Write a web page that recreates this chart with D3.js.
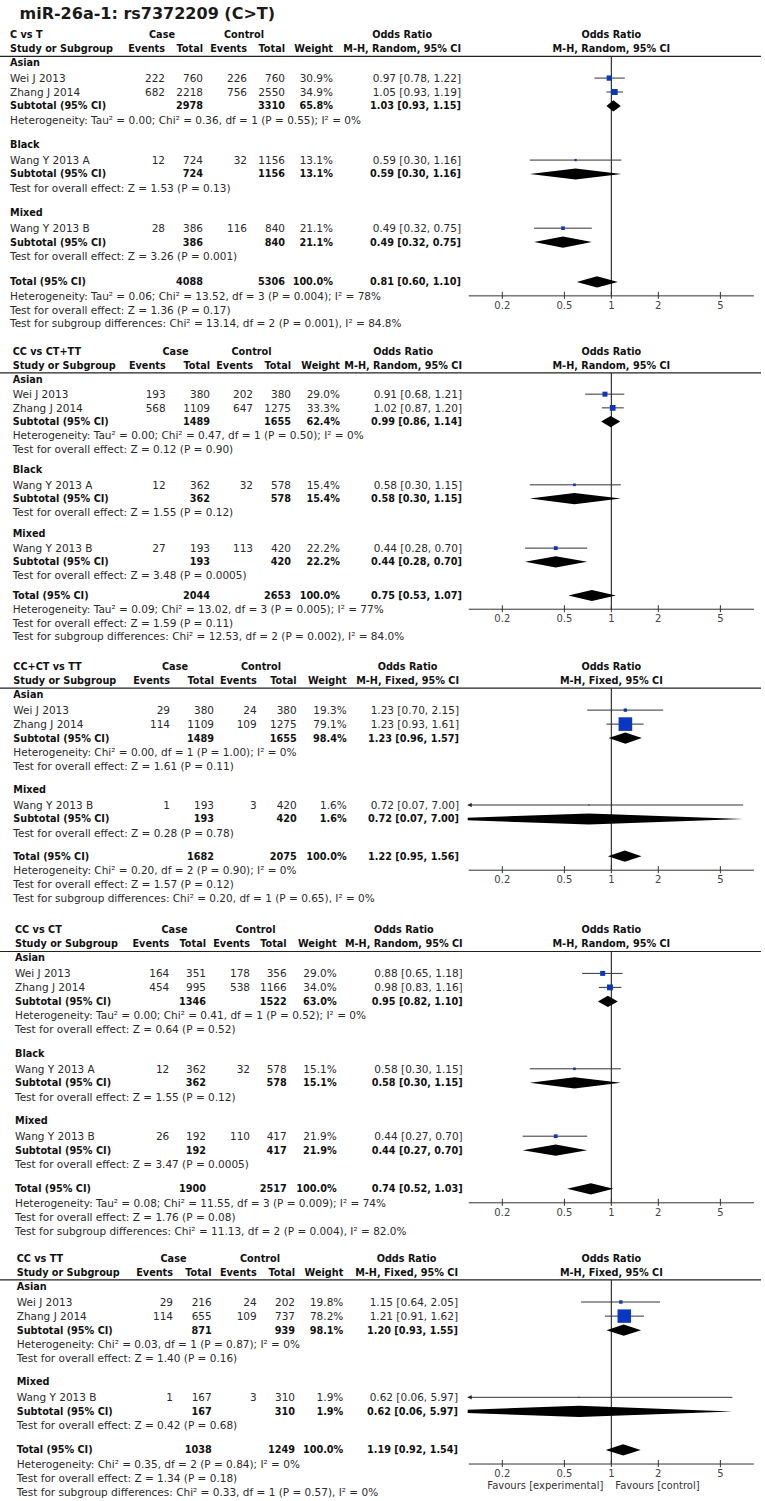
<!DOCTYPE html>
<html><head><meta charset="utf-8">
<script src="https://cdn.jsdelivr.net/npm/d3@7"></script>
<style>
html,body{margin:0;padding:0;background:#fff;}
svg text{font-family:"DejaVu Sans",Verdana,sans-serif;}
</style></head>
<body><svg id="chart" width="765" height="1501"></svg>
<script>
// ---------------- DATA ----------------
const chartTitle = "miR-26a-1: rs7372209 (C>T)";
const panelNames = ["C vs T", "CC vs CT+TT", "CC+CT vs TT", "CC vs CT", "CC vs TT"];
const panelMethods = ["Random", "Random", "Fixed", "Random", "Fixed"];

// study rows: panel, subgroup, study, case events, case total, control events, control total, weight %, OR, lower, upper
const studyData = [
  {p:0, g:"Asian", name:"Wei J 2013",     e1:222, n1:760,  e2:226, n2:760,  w:30.9, or:0.97, lo:0.78, hi:1.22},
  {p:0, g:"Asian", name:"Zhang J 2014",   e1:682, n1:2218, e2:756, n2:2550, w:34.9, or:1.05, lo:0.93, hi:1.19},
  {p:0, g:"Black", name:"Wang Y 2013 A",  e1:12,  n1:724,  e2:32,  n2:1156, w:13.1, or:0.59, lo:0.30, hi:1.16},
  {p:0, g:"Mixed", name:"Wang Y 2013 B",  e1:28,  n1:386,  e2:116, n2:840,  w:21.1, or:0.49, lo:0.32, hi:0.75},

  {p:1, g:"Asian", name:"Wei J 2013",     e1:193, n1:380,  e2:202, n2:380,  w:29.0, or:0.91, lo:0.68, hi:1.21},
  {p:1, g:"Asian", name:"Zhang J 2014",   e1:568, n1:1109, e2:647, n2:1275, w:33.3, or:1.02, lo:0.87, hi:1.20},
  {p:1, g:"Black", name:"Wang Y 2013 A",  e1:12,  n1:362,  e2:32,  n2:578,  w:15.4, or:0.58, lo:0.30, hi:1.15},
  {p:1, g:"Mixed", name:"Wang Y 2013 B",  e1:27,  n1:193,  e2:113, n2:420,  w:22.2, or:0.44, lo:0.28, hi:0.70},

  {p:2, g:"Asian", name:"Wei J 2013",     e1:29,  n1:380,  e2:24,  n2:380,  w:19.3, or:1.23, lo:0.70, hi:2.15},
  {p:2, g:"Asian", name:"Zhang J 2014",   e1:114, n1:1109, e2:109, n2:1275, w:79.1, or:1.23, lo:0.93, hi:1.61},
  {p:2, g:"Mixed", name:"Wang Y 2013 B",  e1:1,   n1:193,  e2:3,   n2:420,  w:1.6,  or:0.72, lo:0.07, hi:7.00},

  {p:3, g:"Asian", name:"Wei J 2013",     e1:164, n1:351,  e2:178, n2:356,  w:29.0, or:0.88, lo:0.65, hi:1.18},
  {p:3, g:"Asian", name:"Zhang J 2014",   e1:454, n1:995,  e2:538, n2:1166, w:34.0, or:0.98, lo:0.83, hi:1.16},
  {p:3, g:"Black", name:"Wang Y 2013 A",  e1:12,  n1:362,  e2:32,  n2:578,  w:15.1, or:0.58, lo:0.30, hi:1.15},
  {p:3, g:"Mixed", name:"Wang Y 2013 B",  e1:26,  n1:192,  e2:110, n2:417,  w:21.9, or:0.44, lo:0.27, hi:0.70},

  {p:4, g:"Asian", name:"Wei J 2013",     e1:29,  n1:216,  e2:24,  n2:202,  w:19.8, or:1.15, lo:0.64, hi:2.05},
  {p:4, g:"Asian", name:"Zhang J 2014",   e1:114, n1:655,  e2:109, n2:737,  w:78.2, or:1.21, lo:0.91, hi:1.62},
  {p:4, g:"Mixed", name:"Wang Y 2013 B",  e1:1,   n1:167,  e2:3,   n2:310,  w:1.9,  or:0.62, lo:0.06, hi:5.97}
];

// subgroup subtotals
const subtotalData = [
  {p:0, g:"Asian", n1:2978, n2:3310, w:65.8, or:1.03, lo:0.93, hi:1.15,
   het:"Heterogeneity: Tau² = 0.00; Chi² = 0.36, df = 1 (P = 0.55); I² = 0%", test:null},
  {p:0, g:"Black", n1:724, n2:1156, w:13.1, or:0.59, lo:0.30, hi:1.16,
   het:null, test:"Test for overall effect: Z = 1.53 (P = 0.13)"},
  {p:0, g:"Mixed", n1:386, n2:840, w:21.1, or:0.49, lo:0.32, hi:0.75,
   het:null, test:"Test for overall effect: Z = 3.26 (P = 0.001)"},

  {p:1, g:"Asian", n1:1489, n2:1655, w:62.4, or:0.99, lo:0.86, hi:1.14,
   het:"Heterogeneity: Tau² = 0.00; Chi² = 0.47, df = 1 (P = 0.50); I² = 0%", test:"Test for overall effect: Z = 0.12 (P = 0.90)"},
  {p:1, g:"Black", n1:362, n2:578, w:15.4, or:0.58, lo:0.30, hi:1.15,
   het:null, test:"Test for overall effect: Z = 1.55 (P = 0.12)"},
  {p:1, g:"Mixed", n1:193, n2:420, w:22.2, or:0.44, lo:0.28, hi:0.70,
   het:null, test:"Test for overall effect: Z = 3.48 (P = 0.0005)"},

  {p:2, g:"Asian", n1:1489, n2:1655, w:98.4, or:1.23, lo:0.96, hi:1.57,
   het:"Heterogeneity: Chi² = 0.00, df = 1 (P = 1.00); I² = 0%", test:"Test for overall effect: Z = 1.61 (P = 0.11)"},
  {p:2, g:"Mixed", n1:193, n2:420, w:1.6, or:0.72, lo:0.07, hi:7.00,
   het:null, test:"Test for overall effect: Z = 0.28 (P = 0.78)"},

  {p:3, g:"Asian", n1:1346, n2:1522, w:63.0, or:0.95, lo:0.82, hi:1.10,
   het:"Heterogeneity: Tau² = 0.00; Chi² = 0.41, df = 1 (P = 0.52); I² = 0%", test:"Test for overall effect: Z = 0.64 (P = 0.52)"},
  {p:3, g:"Black", n1:362, n2:578, w:15.1, or:0.58, lo:0.30, hi:1.15,
   het:null, test:"Test for overall effect: Z = 1.55 (P = 0.12)"},
  {p:3, g:"Mixed", n1:192, n2:417, w:21.9, or:0.44, lo:0.27, hi:0.70,
   het:null, test:"Test for overall effect: Z = 3.47 (P = 0.0005)"},

  {p:4, g:"Asian", n1:871, n2:939, w:98.1, or:1.20, lo:0.93, hi:1.55,
   het:"Heterogeneity: Chi² = 0.03, df = 1 (P = 0.87); I² = 0%", test:"Test for overall effect: Z = 1.40 (P = 0.16)"},
  {p:4, g:"Mixed", n1:167, n2:310, w:1.9, or:0.62, lo:0.06, hi:5.97,
   het:null, test:"Test for overall effect: Z = 0.42 (P = 0.68)"}
];

// overall totals
const totalData = [
  {p:0, n1:4088, n2:5306, w:100.0, or:0.81, lo:0.60, hi:1.10},
  {p:1, n1:2044, n2:2653, w:100.0, or:0.75, lo:0.53, hi:1.07},
  {p:2, n1:1682, n2:2075, w:100.0, or:1.22, lo:0.95, hi:1.56},
  {p:3, n1:1900, n2:2517, w:100.0, or:0.74, lo:0.52, hi:1.03},
  {p:4, n1:1038, n2:1249, w:100.0, or:1.19, lo:0.92, hi:1.54}
];
const totalHet = [
  "Heterogeneity: Tau² = 0.06; Chi² = 13.52, df = 3 (P = 0.004); I² = 78%",
  "Heterogeneity: Tau² = 0.09; Chi² = 13.02, df = 3 (P = 0.005); I² = 77%",
  "Heterogeneity: Chi² = 0.20, df = 2 (P = 0.90); I² = 0%",
  "Heterogeneity: Tau² = 0.08; Chi² = 11.55, df = 3 (P = 0.009); I² = 74%",
  "Heterogeneity: Chi² = 0.35, df = 2 (P = 0.84); I² = 0%"
];
const totalTest = [
  "Test for overall effect: Z = 1.36 (P = 0.17)",
  "Test for overall effect: Z = 1.59 (P = 0.11)",
  "Test for overall effect: Z = 1.57 (P = 0.12)",
  "Test for overall effect: Z = 1.76 (P = 0.08)",
  "Test for overall effect: Z = 1.34 (P = 0.18)"
];
const subgroupTest = [
  "Test for subgroup differences: Chi² = 13.14, df = 2 (P = 0.001), I² = 84.8%",
  "Test for subgroup differences: Chi² = 12.53, df = 2 (P = 0.002), I² = 84.0%",
  "Test for subgroup differences: Chi² = 0.20, df = 1 (P = 0.65), I² = 0%",
  "Test for subgroup differences: Chi² = 11.13, df = 2 (P = 0.004), I² = 82.0%",
  "Test for subgroup differences: Chi² = 0.33, df = 1 (P = 0.57), I² = 0%"
];
const axisTicks = [0.2, 0.5, 1, 2, 5];
const axisTickLabels = ["0.2", "0.5", "1", "2", "5"];
const favoursLeft = "Favours [experimental]";
const favoursRight = "Favours [control]";

// ---------------- LAYOUT (positions / styles) ----------------
const layout = [
  {top:35,    step:13.9, gap:25.0, gapTotal:26.0, c:{study:10,   ev1:165,   tot1:203,   ev2:247,   tot2:285,   wt:333,   or:461,   cas:162,   ctl:244}},
  {top:351.7, step:13.7, gap:20.8, gapTotal:20.0, c:{study:12.7, ev1:165.7, tot1:210,   ev2:253,   tot2:291,   wt:340,   or:462,   cas:175.5, ctl:251.5}},
  {top:666.7, step:14.0, gap:23.5, gapTotal:23.2, c:{study:13.3, ev1:170,   tot1:214,   ev2:256.7, tot2:296.7, wt:346.7, or:459,   cas:175,   ctl:261}},
  {top:930,   step:14.0, gap:24.0, gapTotal:24.6, c:{study:15,   ev1:169.3, tot1:206,   ev2:250,   tot2:286.7, wt:336.7, or:462.7, cas:174.5, ctl:255.5}},
  {top:1258.3,step:14.1, gap:23.4, gapTotal:24.4, c:{study:16.7, ev1:173,   tot1:211.7, ev2:256.7, tot2:295,   wt:343.3, or:458,   cas:173.5, ctl:260}}
];
const FS = 10.5;     // regular text
const FSB = 9.7;     // bold text
const txtColor = "#2a2a2a";
const boldColor = "#111";
const squareColor = "#0a36c4";

const x = d3.scaleLog().domain([0.12, 8.2]).range([467.7, 753.9]);
const sizeScale = d3.scaleLinear().domain([0, 100]).range([0, 17.2]);

const svg = d3.select("#chart");
svg.append("rect").attr("width",765).attr("height",1501).attr("fill","#fff");

svg.append("text").attr("x",19.5).attr("y",18.5)
  .attr("font-size",16).attr("font-weight","bold").attr("fill","#1a1a1a")
  .text(chartTitle);

const fmt2 = d3.format(".2f");
const orText = d => `${fmt2(d.or)} [${fmt2(d.lo)}, ${fmt2(d.hi)}]`;
const wText = d => d3.format(".1f")(d.w) + "%";

function txt(g, xx, yy, s, opts={}) {
  return g.append("text").attr("x",xx).attr("y",yy).attr("dy","0.36em")
    .attr("font-size", opts.size || (opts.bold ? FSB : FS))
    .attr("font-weight", opts.bold ? "bold" : "normal")
    .attr("fill", opts.color || (opts.bold ? boldColor : txtColor))
    .attr("text-anchor", opts.anchor || "start")
    .text(s);
}

panelNames.forEach((pname, p) => {
  const L = layout[p], c = L.c, s = L.step;
  const g = svg.append("g");
  const h1 = L.top, h2 = L.top + s, hline = h2 + 7.5;

  // header
  txt(g, c.study, h1, pname, {bold:true});
  txt(g, c.study, h2, "Study or Subgroup", {bold:true});
  txt(g, c.cas, h1, "Case", {bold:true, anchor:"middle"});
  txt(g, c.ctl, h1, "Control", {bold:true, anchor:"middle"});
  txt(g, c.ev1, h2, "Events", {bold:true, anchor:"end"});
  txt(g, c.tot1, h2, "Total", {bold:true, anchor:"end"});
  txt(g, c.ev2, h2, "Events", {bold:true, anchor:"end"});
  txt(g, c.tot2, h2, "Total", {bold:true, anchor:"end"});
  txt(g, c.wt, h2, "Weight", {bold:true, anchor:"end"});
  const mh = `M-H, ${panelMethods[p]}, 95% CI`;
  const mhNode = txt(g, c.or, h2, mh, {bold:true, anchor:"end"});
  const mhW = mhNode.node().getComputedTextLength();
  txt(g, c.or - mhW/2, h1, "Odds Ratio", {bold:true, anchor:"middle"});
  txt(g, x(1), h1, "Odds Ratio", {bold:true, anchor:"middle"});
  txt(g, x(1), h2, mh, {bold:true, anchor:"middle"});

  g.append("line").attr("x1",0).attr("x2",761).attr("y1",hline).attr("y2",hline)
    .attr("stroke","#222").attr("stroke-width",1.2);

  // rows
  const rows = [];
  let cur = h2;
  const subs = subtotalData.filter(d => d.p === p);
  subs.forEach((sd, i) => {
    cur += (i === 0 ? s : L.gap);
    rows.push({type:"group", y:cur, d:sd});
    studyData.filter(d => d.p === p && d.g === sd.g).forEach((st, j) => {
      cur += (j === 0 ? 1.1 * s : s);
      rows.push({type:"study", y:cur, d:st});
    });
    cur += s; rows.push({type:"subtotal", y:cur, d:sd});
    if (sd.het) { cur += s; rows.push({type:"note", y:cur, text:sd.het}); }
    if (sd.test) { cur += s; rows.push({type:"note", y:cur, text:sd.test}); }
  });
  cur += L.gapTotal;
  const tot = totalData.find(d => d.p === p);
  rows.push({type:"total", y:cur, d:tot});
  cur += s; rows.push({type:"note", y:cur, text:totalHet[p]});
  const axisY = cur;
  cur += s; rows.push({type:"note", y:cur, text:totalTest[p]});
  cur += s; rows.push({type:"note", y:cur, text:subgroupTest[p]});

  // clip for plot
  const clipId = "clip" + p;
  svg.append("clipPath").attr("id", clipId).append("rect")
    .attr("x", x.range()[0]).attr("width", x.range()[1] - x.range()[0])
    .attr("y", hline).attr("height", axisY - hline + 20);

  // reference line at 1
  g.append("line").attr("x1",x(1)).attr("x2",x(1)).attr("y1",hline).attr("y2",axisY)
    .attr("stroke","#222").attr("stroke-width",1.1);

  const plot = g.append("g").attr("clip-path", `url(#${clipId})`);
  const [dmin, dmax] = x.domain();

  rows.forEach(r => {
    if (r.type === "group") {
      txt(g, c.study, r.y, r.d.g, {bold:true});
    } else if (r.type === "note") {
      txt(g, c.study, r.y, r.text);
    } else if (r.type === "study") {
      const d = r.d;
      txt(g, c.study, r.y, d.name);
      txt(g, c.ev1, r.y, d.e1, {anchor:"end"});
      txt(g, c.tot1, r.y, d.n1, {anchor:"end"});
      txt(g, c.ev2, r.y, d.e2, {anchor:"end"});
      txt(g, c.tot2, r.y, d.n2, {anchor:"end"});
      txt(g, c.wt, r.y, wText(d), {anchor:"end"});
      txt(g, c.or, r.y, orText(d), {anchor:"end"});
      // CI line
      const xl = x(Math.max(d.lo, dmin)), xr = x(Math.min(d.hi, dmax));
      g.append("line").attr("x1", xl).attr("x2", xr).attr("y1", r.y).attr("y2", r.y)
        .attr("stroke","#333").attr("stroke-width",1);
      if (d.lo < dmin) {
        g.append("path").attr("d", d3.line()([[xl, r.y], [xl+4, r.y-2.2], [xl+4, r.y+2.2]]) + "Z")
          .attr("fill","#222");
      }
      if (d.hi > dmax) {
        g.append("path").attr("d", d3.line()([[xr, r.y], [xr-4, r.y-2.2], [xr-4, r.y+2.2]]) + "Z")
          .attr("fill","#222");
      }
      const sz = Math.max(1.3, sizeScale(d.w));
      g.append("rect").attr("x", x(d.or) - sz/2).attr("y", r.y - sz/2)
        .attr("width", sz).attr("height", sz).attr("fill", squareColor);
    } else if (r.type === "subtotal" || r.type === "total") {
      const d = r.d;
      txt(g, c.study, r.y, r.type === "total" ? "Total (95% CI)" : "Subtotal (95% CI)", {bold:true});
      txt(g, c.tot1, r.y, d.n1, {anchor:"end", bold:true});
      txt(g, c.tot2, r.y, d.n2, {anchor:"end", bold:true});
      txt(g, c.wt, r.y, wText(d), {anchor:"end", bold:true});
      txt(g, c.or, r.y, orText(d), {anchor:"end", bold:true});
      const hh = 5.6;
      plot.append("path")
        .attr("d", d3.line()([[x(d.lo), r.y], [x(d.or), r.y - hh], [x(d.hi), r.y], [x(d.or), r.y + hh]]) + "Z")
        .attr("fill", "#000");
    }
  });

  // axis
  const ax = g.append("g");
  ax.append("line").attr("x1", x.range()[0] + 1).attr("x2", x.range()[1]).attr("y1", axisY).attr("y2", axisY)
    .attr("stroke","#333").attr("stroke-width",1);
  axisTicks.forEach((t, i) => {
    ax.append("line").attr("x1", x(t)).attr("x2", x(t)).attr("y1", axisY - 4).attr("y2", axisY + 3)
      .attr("stroke","#333").attr("stroke-width",1);
    txt(ax, x(t), axisY + 9.5, axisTickLabels[i], {anchor:"middle", size:10, color:"#444"});
  });
  if (p === panelNames.length - 1) {
    txt(ax, x(1) - 8, axisY + 21, favoursLeft, {anchor:"end", size:10, color:"#333"});
    txt(ax, x(1) + 4, axisY + 21, favoursRight, {anchor:"start", size:10, color:"#333"});
  }
});
</script>
</body></html>
